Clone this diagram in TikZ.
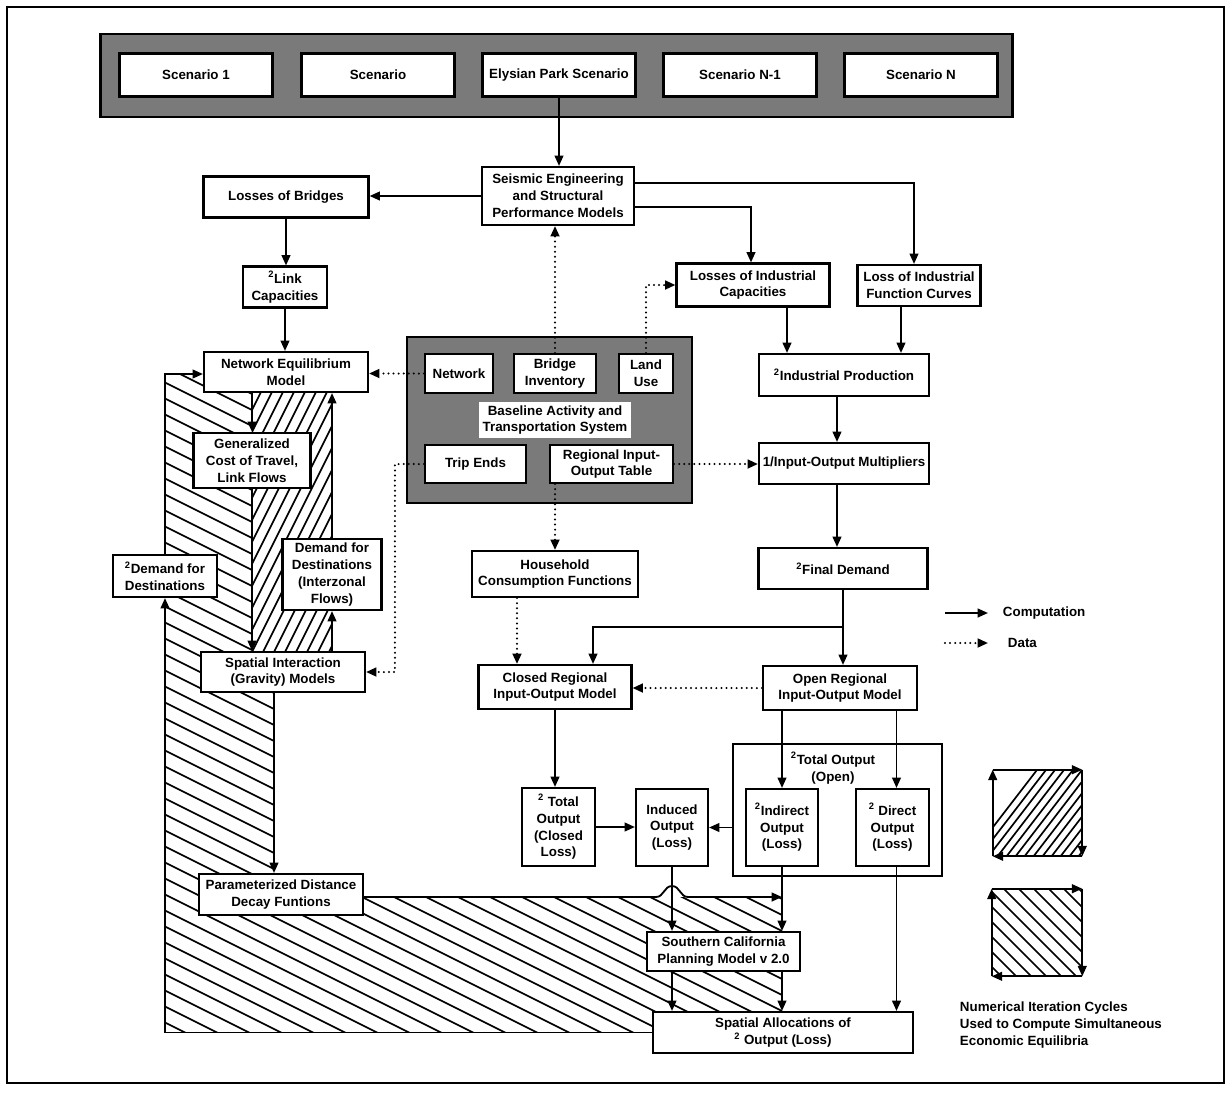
\documentclass[tikz,border=0pt]{standalone}
\usepackage{fontspec}
\setmainfont{Liberation Sans}
\usetikzlibrary{arrows.meta}

\begin{document}
\begin{tikzpicture}[x=0.025cm, y=-0.025cm,
    lbl/.style={align=center, font=\fontsize{9.5}{12}\selectfont\bfseries},
    box/.style={lbl, draw, line width=1.5pt, fill=white, inner sep=1pt},
    scen/.style={box, minimum width=3.825cm, minimum height=1.075cm},
    shade/.style={draw, line width=2pt, fill=black!52},
    comp/.style={line width=1.3pt, -{Triangle[length=2.6mm,width=2.2mm]}},
    data/.style={comp, line width=1.6pt, line cap=round, dash pattern=on 0pt off 3.6pt},
    hatch/.style={line width=1.2pt}]
\useasboundingbox (0,0) rectangle (1231,1093);
\draw[line width=1.3pt] (7,7) rectangle (1224,1083);

\node[shade, minimum width=22.775cm, minimum height=2.075cm] (band) at (556.5,75.5) {};
\node[scen] (sc1) at (196,75) {Scenario 1};
\node[scen] (sc2) at (378,75) {Scenario};
\node[scen] (elysian) at (559,75) {Elysian Park Scenario};
\node[scen] (scn1) at (740,75) {Scenario N-1};
\node[scen] (scn) at (921,75) {Scenario N};

\begin{scope}
\clip (165,374) -- (204,374) -- (204,392) -- (252,392) -- (252,652) -- (274,652) -- (274,897)
  -- (782,897) -- (782,1012) -- (653,1012) -- (653,1032) -- (165,1032) -- cycle;
\foreach \x in {-1312,-1280,...,640}
  \draw[hatch] (\x,300) -- ++(1600,800);
\end{scope}
\begin{scope}
\clip (252,392) rectangle (332,652);
\foreach \x in {96,107,...,316}
  \draw[hatch] (\x,700) -- ++(200,-400);
\end{scope}

\node[shade, minimum width=7.125cm, minimum height=4.15cm] (base) at (549.5,420) {};
\node[box, minimum width=1.7cm, minimum height=0.975cm] (network) at (459,373.5) {Network};
\node[box, minimum width=2.05cm, minimum height=0.975cm] (binv) at (555,373.5) {Bridge\\Inventory};
\node[box, minimum width=1.35cm, minimum height=0.975cm] (landuse) at (646,373.5) {Land\\Use};
\node[lbl, fill=white, inner sep=2.5pt] (basetxt) at (555,420) {Baseline Activity and\\Transportation System};
\node[box, minimum width=2.525cm, minimum height=0.95cm] (trip) at (475.5,464) {Trip Ends};
\node[box, minimum width=3.075cm, minimum height=0.95cm] (riot) at (611.5,464) {Regional Input-\\Output Table};

\node[box, minimum width=3.8cm, minimum height=1.45cm] (seis) at (558,196) {Seismic Engineering\\and Structural\\Performance Models};
\node[box, minimum width=4.125cm, minimum height=1.025cm] (bridges) at (286,197) {Losses of Bridges};
\node[box, minimum width=2.1cm, minimum height=1.025cm] (link) at (285,287) {\textsuperscript{2}Link\\Capacities};
\node[box, minimum width=4.1cm, minimum height=1.0cm] (nem) at (286,372) {Network Equilibrium\\Model};
\node[box, minimum width=2.925cm, minimum height=1.375cm] (gen) at (252,460.5) {Generalized\\Cost of Travel,\\Link Flows};
\node[box, minimum width=2.6cm, minimum height=1.05cm] (dfd) at (165,576) {\textsuperscript{2}Demand for\\Destinations};
\node[box, minimum width=2.475cm, minimum height=1.775cm] (dfdi) at (332,574.5) {Demand for\\Destinations\\(Interzonal\\Flows)};
\node[box, minimum width=4.1cm, minimum height=1.0cm] (si) at (283,672) {Spatial Interaction\\(Gravity) Models};
\node[box, minimum width=4.1cm, minimum height=1.025cm] (pddf) at (281,894.5) {Parameterized Distance\\Decay Funtions};

\node[box, minimum width=3.825cm, minimum height=1.075cm] (lic) at (753,285) {Losses of Industrial\\Capacities};
\node[box, minimum width=3.075cm, minimum height=1.025cm] (lifc) at (919,285.5) {Loss of Industrial\\Function Curves};
\node[box, minimum width=4.25cm, minimum height=1.05cm] (ip) at (844,375) {\textsuperscript{2}Industrial Production};
\node[box, minimum width=4.25cm, minimum height=1.025cm] (iom) at (844,463.5) {1/Input-Output Multipliers};
\node[box, minimum width=4.225cm, minimum height=1.025cm] (fd) at (843,568.5) {\textsuperscript{2}Final Demand};
\node[box, minimum width=4.15cm, minimum height=1.15cm] (hh) at (555,574) {Household\\Consumption Functions};
\node[box, minimum width=3.825cm, minimum height=1.1cm] (closed) at (555,687) {Closed Regional\\Input-Output Model};
\node[box, minimum width=3.85cm, minimum height=1.1cm] (open) at (840,688) {Open Regional\\Input-Output Model};

\node[box, minimum width=5.225cm, minimum height=3.3cm] (totopen) at (837.5,810) {};
\node[lbl] (totopentxt) at (833,768) {\textsuperscript{2}Total Output\\(Open)};
\node[box, minimum width=1.825cm, minimum height=1.95cm] (totc) at (558.5,827) {\textsuperscript{2} Total\\Output\\(Closed\\Loss)};
\node[box, minimum width=1.8cm, minimum height=1.925cm] (induced) at (672,827.5) {Induced\\Output\\(Loss)};
\node[box, minimum width=1.8cm, minimum height=1.925cm] (ind) at (782,827.5) {\textsuperscript{2}Indirect\\Output\\(Loss)};
\node[box, minimum width=1.825cm, minimum height=1.925cm] (dir) at (892.5,827.5) {\textsuperscript{2} Direct\\Output\\(Loss)};
\node[box, minimum width=3.825cm, minimum height=0.975cm] (scpm) at (723.5,951.5) {Southern California\\Planning Model v 2.0};
\node[box, minimum width=6.5cm, minimum height=1.025cm] (sa) at (783,1032.5) {Spatial Allocations of\\\textsuperscript{2} Output (Loss)};
\coordinate (merge) at (782,897);

\draw[comp] (elysian.south) -- (elysian.south |- seis.north);
\draw[comp] (seis.west) -- (seis.west -| bridges.east);
\draw[comp] ([yshift=0.325cm]seis.east) -| ([xshift=-0.125cm]lifc.north);
\draw[comp] ([yshift=-0.275cm]seis.east) -| ([xshift=-0.05cm]lic.north);
\draw[comp] (bridges.south) -- (bridges.south |- link.north);
\draw[comp] (link.south) -- (link.south |- nem.north);
\draw[comp] ([xshift=0.85cm]lic.south) -- ([xshift=0.85cm]lic.south |- ip.north);
\draw[comp] ([xshift=-0.45cm]lifc.south) -- ([xshift=-0.45cm]lifc.south |- ip.north);
\draw[comp] ([xshift=-0.175cm]ip.south) -- ([xshift=-0.175cm]ip.south |- iom.north);
\draw[comp] ([xshift=-0.175cm]iom.south) -- ([xshift=-0.175cm]iom.south |- fd.north);
\draw[comp] (fd.south) -- (fd.south |- open.north);
\draw[comp] ([yshift=-0.925cm]fd.south) -| ([xshift=0.95cm]closed.north);
\draw[comp] (closed.south) -- (closed.south |- totc.north);
\draw[comp] (ind.north |- open.south) -- (ind.north);
\draw[comp] ([xshift=0.1cm]dir.north |- open.south) -- ([xshift=0.1cm]dir.north);
\draw[comp] (totc.east) -- (totc.east -| induced.west);
\draw[comp] (totopen.west |- induced.east) -- (induced.east);
\draw[comp] (induced.south) -- (induced.south |- scpm.north);
\draw[comp] (ind.south) -- (ind.south |- scpm.north);
\draw[comp] (induced.south |- scpm.south) -- (induced.south |- sa.north);
\draw[comp] (ind.south |- scpm.south) -- (ind.south |- sa.north);
\draw[comp] ([xshift=0.1cm]dir.south) -- ([xshift=0.1cm]dir.south |- sa.north);
\draw[comp] (pddf.east |- merge) -- ([xshift=-0.4cm]induced.south |- merge)
  .. controls +(8,0) and +(-8,0) .. ++(16,-11)
  .. controls +(8,0) and +(-8,0) .. ++(16,11) -- (merge);
\draw[comp] (gen.north |- nem.south) -- (gen.north);
\draw[comp] (gen.south) -- (gen.south |- si.north);
\draw[comp] (dfdi.south |- si.north) -- (dfdi.south);
\draw[comp] (dfdi.north) -- (dfdi.north |- nem.south);
\draw[comp] ([xshift=-0.225cm]si.south) -- ([xshift=-0.225cm]si.south |- pddf.north);
\draw[comp] (sa.west) -| (dfd.south);
\draw[comp] (dfd.north) |- ([yshift=-0.05cm]nem.west);

\draw[data] (binv.north) -- (binv.north |- seis.south);
\draw[data] (landuse.north) |- (lic.west);
\draw[data] (network.west) -- (network.west -| nem.east);
\draw[data] (trip.west) -- ++(-29,0) |- (si.east);
\draw[data] (riot.east) -- (riot.east -| iom.west);
\draw[data] (hh.north |- riot.south) -- (hh.north);
\draw[data] ([xshift=-0.95cm]hh.south) -- ([xshift=-0.95cm]hh.south |- closed.north);
\draw[data] (open.west) -- (open.west -| closed.east);

\node[lbl, anchor=west] (comptxt) at (998,613) {Computation};
\node[lbl, anchor=west] (datatxt) at (1003,643) {Data};
\coordinate (compstart) at (945,613);
\coordinate (datastart) at (945,643);
\draw[comp] (compstart) -- ([xshift=-0.25cm]comptxt.west);
\draw[data] (datastart) -- ([xshift=-0.375cm]datatxt.west);

\begin{scope}
\clip (993,770) rectangle (1082,856);
\foreach \x in {960,969,...,1100}
  \draw[hatch] (\x,870) -- ++(100,-130);
\end{scope}
\node[minimum width=2.225cm, minimum height=2.15cm, inner sep=0pt] (cyc1) at (1037.5,813) {};
\draw[comp] (cyc1.south west) -- (cyc1.north west);
\draw[comp] (cyc1.north west) -- (cyc1.north east);
\draw[comp] (cyc1.north east) -- (cyc1.south east);
\draw[comp] (cyc1.south east) -- (cyc1.south west);

\begin{scope}
\clip (992,889) rectangle (1082,976);
\foreach \x in {890,905,...,1090}
  \draw[hatch] (\x,880) -- ++(110,110);
\end{scope}
\node[minimum width=2.25cm, minimum height=2.175cm, inner sep=0pt] (cyc2) at (1037,932.5) {};
\draw[comp] (cyc2.south west) -- (cyc2.north west);
\draw[comp] (cyc2.north west) -- (cyc2.north east);
\draw[comp] (cyc2.north east) -- (cyc2.south east);
\draw[comp] (cyc2.south east) -- (cyc2.south west);

\node[lbl, align=left, anchor=west] (cyctxt) at (955,1025) {Numerical Iteration Cycles\\Used to Compute Simultaneous\\Economic Equilibria};
\end{tikzpicture}
\end{document}
